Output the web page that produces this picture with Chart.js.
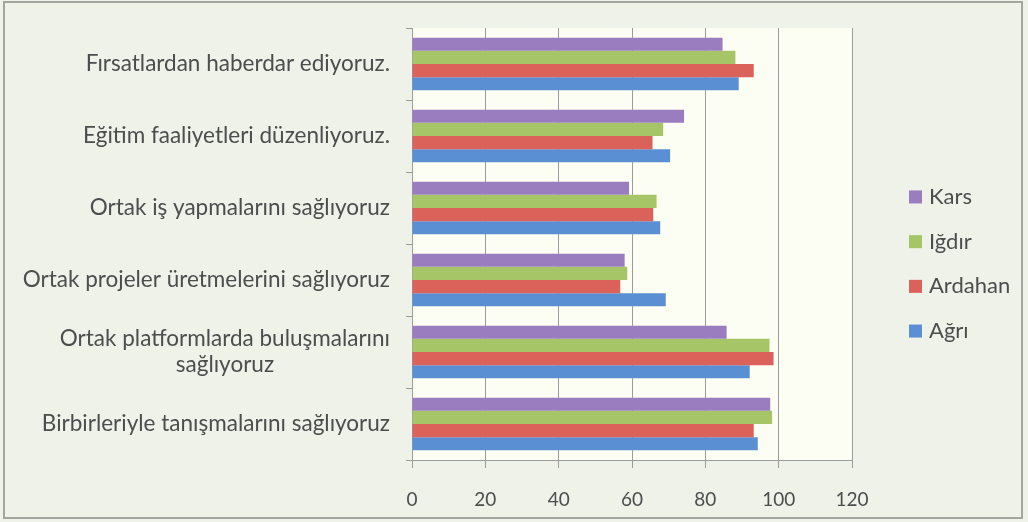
<!DOCTYPE html>
<html>
<head>
<meta charset="utf-8">
<script src="https://cdn.jsdelivr.net/npm/chart.js"></script>
<style>
    html, body { margin: 0; padding: 0; background: #eef2e9; }
    #wrap { width: 1028px; height: 522px; position: relative; }
</style>
</head>
<body>
<div id="wrap"><canvas id="barChart" width="1028" height="522"></canvas></div>
<script>
// Kategorier (y-axeln), uppifrån och ned
const categories = [
    "Fırsatlardan haberdar ediyoruz.",
    "Eğitim faaliyetleri düzenliyoruz.",
    "Ortak iş yapmalarını sağlıyoruz",
    "Ortak projeler üretmelerini sağlıyoruz",
    ["Ortak platformlarda buluşmalarını", "sağlıyoruz"],
    "Birbirleriyle tanışmalarını sağlıyoruz"
];

// Serier, i samma ordning som legenden
const seriesNames = ["Kars", "Iğdır", "Ardahan", "Ağrı"];
const karsValues = [84.7, 74.2, 59.2, 58.0, 85.8, 97.7];
const igdirValues = [88.2, 68.5, 66.7, 58.7, 97.5, 98.2];
const ardahanValues = [93.2, 65.6, 65.8, 56.8, 98.6, 93.2];
const agriValues = [89.1, 70.4, 67.7, 69.2, 92.1, 94.3];

// x-axelns steg
const xTicks = [0, 20, 40, 60, 80, 100, 120];

const seriesColors = ['#9a7dbf', '#a6c566', '#da625b', '#5a8fd3'];
const textColor = '#4d4d4d';
const fontFamily = 'Lato, "DejaVu Sans", sans-serif';

// Bakgrund för ram och plotyta
const backgroundPlugin = {
    id: 'backgrounds',
    beforeDraw(chart) {
        const ctx = chart.ctx;
        const area = chart.chartArea;
        ctx.save();
        ctx.fillStyle = '#eef2e9';
        ctx.fillRect(0, 0, chart.width, chart.height);
        ctx.strokeStyle = '#a3a6a0';
        ctx.lineWidth = 2;
        ctx.strokeRect(4, 2, 1018, 516);
        ctx.fillStyle = '#fdfef3';
        ctx.fillRect(area.left, area.top, area.right - area.left, area.bottom - area.top);
        ctx.restore();
    }
};

// Kategorietiketter, högerställda block med centrerade rader
const yLabelPlugin = {
    id: 'yLabels',
    afterDraw(chart) {
        const ctx = chart.ctx;
        const yScale = chart.scales.y;
        ctx.save();
        ctx.font = '22.5px ' + fontFamily;
        ctx.fillStyle = textColor;
        ctx.textAlign = 'center';
        ctx.textBaseline = 'middle';
        categories.forEach((label, i) => {
            const lines = Array.isArray(label) ? label : [label];
            const y = yScale.getPixelForValue(i);
            const widest = Math.max(...lines.map(l => ctx.measureText(l).width));
            const cx = chart.chartArea.left - 22 - widest / 2;
            lines.forEach((line, j) => {
                ctx.fillText(line, cx, y + (j - (lines.length - 1) / 2) * 26);
            });
        });
        ctx.restore();
    }
};

// Legend till höger
const legendPlugin = {
    id: 'sideLegend',
    afterDraw(chart) {
        const ctx = chart.ctx;
        const step = 44.7;
        const startY = chart.height / 2 + 3 - step * 1.5;
        ctx.save();
        ctx.font = '22px ' + fontFamily;
        ctx.textBaseline = 'middle';
        ctx.textAlign = 'left';
        chart.data.datasets.forEach((ds, i) => {
            const y = startY + i * step;
            ctx.fillStyle = ds.backgroundColor;
            ctx.fillRect(909, y - 6.5, 13, 13);
            ctx.fillStyle = textColor;
            ctx.fillText(ds.label, 929, y);
        });
        ctx.restore();
    }
};

const allValues = [karsValues, igdirValues, ardahanValues, agriValues];

new Chart(
    document.getElementById('barChart'),
    {
    type: 'bar',
    data: {
        labels: categories,
        datasets: seriesNames.map((name, i) => ({
            label: name,
            data: allValues[i],
            backgroundColor: seriesColors[i],
            borderWidth: 0,
            categoryPercentage: 0.73,
            barPercentage: 1.0
        }))
    },
    options: {
        indexAxis: 'y',
        animation: false,
        responsive: false,
        layout: {
            padding: { top: 28, left: 0, right: 176, bottom: 0 }
        },
        scales: {
            x: {
                min: 0,
                max: 120,
                afterBuildTicks(scale) {
                    scale.ticks = xTicks.map(v => ({ value: v }));
                },
                afterFit(scale) {
                    scale.height = 62;
                },
                grid: {
                    color: '#9c9c9c',
                    lineWidth: 1,
                    tickLength: 8
                },
                border: { color: '#9c9c9c' },
                ticks: {
                    color: textColor,
                    padding: 20,
                    font: { family: fontFamily, size: 19 }
                }
            },
            y: {
                afterFit(scale) {
                    scale.width = 412;
                },
                grid: {
                    drawOnChartArea: false,
                    color: '#9c9c9c',
                    tickLength: 6
                },
                border: { color: '#9c9c9c' },
                ticks: { display: false }
            }
        },
        plugins: {
            legend: { display: false },
            tooltip: { enabled: true }
        }
    },
    plugins: [backgroundPlugin, yLabelPlugin, legendPlugin]
});
</script>
</body>
</html>
